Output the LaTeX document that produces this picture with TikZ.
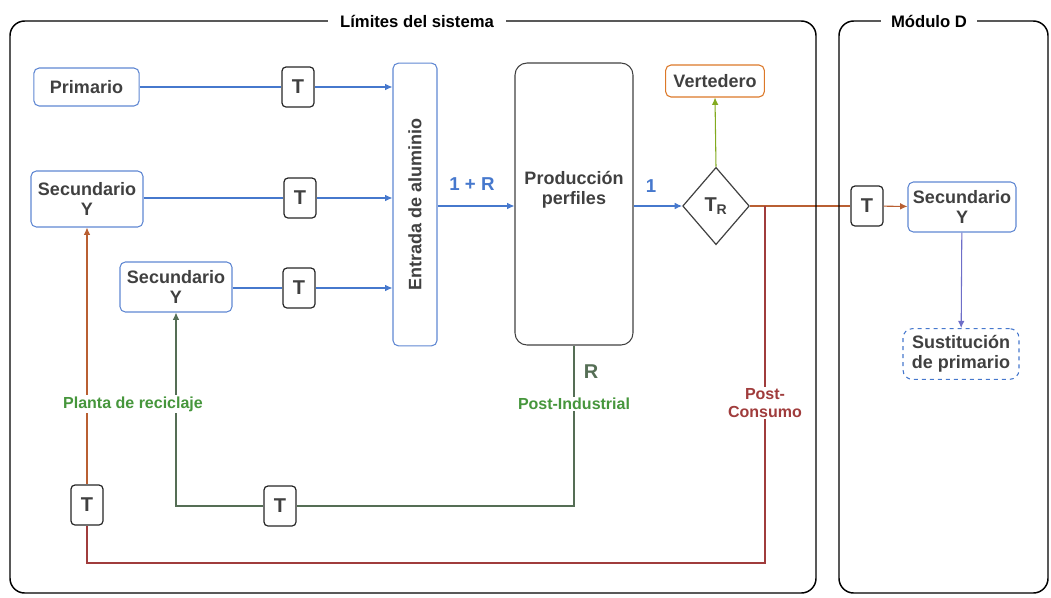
\documentclass[tikz,border=0pt]{standalone}
\usepackage{fontspec}
\setmainfont{Liberation Sans}
\usetikzlibrary{shapes.geometric,arrows.meta}
\definecolor{azulcaja}{RGB}{95,135,210}
\definecolor{azulflecha}{RGB}{70,120,205}
\definecolor{gristexto}{RGB}{64,64,64}
\definecolor{naranja}{RGB}{220,120,40}
\definecolor{verdelima}{RGB}{130,170,30}
\definecolor{marron}{RGB}{185,95,50}
\definecolor{rojizo}{RGB}{160,60,60}
\definecolor{verdegris}{RGB}{85,110,85}
\definecolor{verdeetq}{RGB}{70,150,60}
\definecolor{lila}{RGB}{110,110,200}

\begin{document}
\begin{tikzpicture}[x=0.75pt,y=0.75pt,
  font=\bfseries\fontsize{13.5}{15}\selectfont,
  caja/.style={draw=azulcaja, line width=0.8pt, rounded corners=4pt, text=gristexto, align=center, inner sep=1pt},
  tcaja/.style={draw=black!85, fill=white, line width=0.9pt, rounded corners=3pt, minimum width=24pt, minimum height=30pt, inner sep=0pt, text=gristexto, font=\bfseries\fontsize{15}{16}\selectfont},
  flecha/.style={-{Latex[length=5.5pt,width=5pt]}},
  linea/.style={line width=0.8pt},
  etiq/.style={fill=white, inner sep=1pt, align=center, font=\bfseries\fontsize{12}{14}\selectfont},
  titulo/.style={fill=white, inner ysep=2pt, text=black, font=\bfseries\fontsize{12.5}{14}\selectfont}]
 		\useasboundingbox (0,0) rectangle (1051,-597);
 		% cajas
 		\node[caja, minimum width=79pt, minimum height=28.5pt] (prim) at (86.5,-87) {Primario};
 		\node[caja, minimum width=84pt, minimum height=42pt] (sec1) at (87,-199) {Secundario\\Y};
 		\node[caja, minimum width=84pt, minimum height=37.5pt] (sec2) at (176,-287) {Secundario\\Y};
 		\node[caja, minimum width=33pt, minimum height=212pt] (ent) at (415,-204.5) {};
 		\node[rotate=90, text=gristexto] (enttxt) at (ent) {Entrada de aluminio};
 		\node[caja, draw=gristexto, rounded corners=9pt, minimum width=88.5pt, minimum height=211.5pt] (prod) at (574,-204) {};
 		\node[text=gristexto, align=center] (prodtxt) at (574,-190) {Producción\\perfiles};
 		\node[draw=gristexto, line width=0.9pt, diamond, minimum width=50pt, minimum height=58pt, inner sep=0pt, text=gristexto, font=\bfseries\fontsize{15}{16}\selectfont] (dia) at (716,-206) {T\textsubscript{R}};
 		\node[caja, draw=naranja, minimum width=74pt, minimum height=24pt] (vert) at (715,-81) {Vertedero};
 		\node[caja, minimum width=81pt, minimum height=37.5pt] (sec3) at (962,-207) {Secundario\\Y};
 		\node[caja, draw=azulflecha, dashed, rounded corners=7pt, minimum width=87pt, minimum height=38pt] (sust) at (961,-354) {Sustitución\\de primario};
 		% transportes
 		\node[tcaja] (t1) at (298,-87) {T};
 		\node[tcaja] (t2) at (300,-198) {T};
 		\node[tcaja] (t3) at (299,-288) {T};
 		\node[tcaja] (t4) at (867,-206) {T};
 		\node[tcaja] (t5) at (87,-505) {T};
 		\node[tcaja] (t6) at (280,-506) {T};
 		% entradas de aluminio
 		\draw[linea, azulflecha] (prim) -- (t1);
 		\draw[linea, azulflecha, flecha] (t1) -- (t1 -| ent.west);
 		\draw[linea, azulflecha] (sec1.east |- t2) -- (t2);
 		\draw[linea, azulflecha, flecha] (t2) -- (t2 -| ent.west);
 		\draw[linea, azulflecha] (sec2.east |- t3) -- (t3);
 		\draw[linea, azulflecha, flecha] (t3) -- (t3 -| ent.west);
 		\draw[linea, azulflecha, flecha] (ent.east |- dia) -- (prod.west |- dia);
 		\draw[linea, azulflecha, flecha] (prod.east |- dia) -- (dia.west);
 		\draw[linea, verdelima, flecha] (dia.north) -- (vert.south);
 		% modulo D
 		\draw[linea, marron] (dia.east) -- (t4);
 		\draw[linea, marron, flecha] (t4) -- (sec3);
 		\draw[linea, lila, flecha] (sec3) -- (sust);
 		% post-industrial
 		\coordinate (pib) at (574,-506);
 		\draw[linea, verdegris] (prod.south) -- (pib) -- (t6);
 		\draw[linea, verdegris, flecha] (t6) -- (t6 -| sec2) -- (sec2.south);
 		% post-consumo
 		\coordinate (pc) at (765,-206);
 		\coordinate (pcb) at (765,-563);
 		\draw[linea, rojizo] (pc) -- (pcb) -- (pcb -| t5) -- (t5.south);
 		\draw[linea, marron, flecha] (t5) -- (sec1.south);
 		% marcos
 		\draw[line width=1.1pt, rounded corners=11pt] (10,-21) rectangle (816,-593);
 		\draw[line width=1.1pt, rounded corners=11pt] (839,-21) rectangle (1048,-593);
 		\node[titulo, inner xsep=9pt] (lim) at (417,-21) {Límites del sistema};
 		\node[titulo, inner xsep=7.5pt] (mod) at (929,-21) {Módulo D};
 		% etiquetas
 		\node[text=azulflecha, font=\bfseries\fontsize{14}{15}\selectfont] (unor) at (472,-184) {1 + R};
 		\node[text=azulflecha, font=\bfseries\fontsize{14}{15}\selectfont] (uno) at (651,-186) {1};
 		\node[text=verdegris, font=\bfseries\fontsize{15}{16}\selectfont] (erre) at (591,-372) {R};
 		\node[etiq, text=verdeetq] (posti) at (574,-404) {Post-Industrial};
 		\node[etiq, text=rojizo] (postc) at (765,-403) {Post-\\Consumo};
 		\node[etiq, text=verdeetq, inner xsep=0pt] (planta) at (133,-404) {Planta de reciclaje};
 	\end{tikzpicture}
\end{document}
